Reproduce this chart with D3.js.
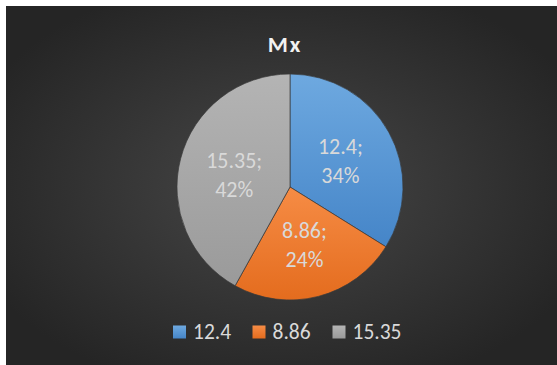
<!DOCTYPE html>
<html><head><meta charset="utf-8">
<script src="https://cdn.jsdelivr.net/npm/d3@7"></script>
<style>html,body{margin:0;padding:0;background:#fff;}svg{display:block;}</style>
</head><body>
<script>
const categories = ["12.4", "8.86", "15.35"];
const values = [12.4, 8.86, 15.35];
const percentLabels = ["34%", "24%", "42%"];
const lightColors = ["#6EA9E0", "#F68C45", "#B4B4B4"];
const darkColors = ["#4585C8", "#E46C1E", "#9A9A9A"];
const title = "Mx";

const W = 557, H = 365;
const svg = d3.select("body").append("svg").attr("width", W).attr("height", H);
const defs = svg.append("defs");
const bg = defs.append("radialGradient").attr("id", "bg").attr("cx", "50%").attr("cy", "50%").attr("r", "60%");
bg.append("stop").attr("offset", "0%").attr("stop-color", "#474747");
bg.append("stop").attr("offset", "100%").attr("stop-color", "#252525");
svg.append("rect").attr("x", 6).attr("y", 6).attr("width", W - 6).attr("height", H - 6).attr("fill", "url(#bg)");

categories.forEach((c, i) => {
  const g = defs.append("linearGradient").attr("id", "g" + i).attr("x1", 0).attr("y1", 0).attr("x2", 0).attr("y2", 1);
  g.append("stop").attr("offset", "0%").attr("stop-color", lightColors[i]);
  g.append("stop").attr("offset", "100%").attr("stop-color", darkColors[i]);
});

const font = "Carlito, 'Open Sans', 'Liberation Sans', sans-serif";
svg.append("text").attr("x", 285).attr("y", 51.5).attr("text-anchor", "middle")
  .attr("font-family", font).attr("font-weight", "bold").attr("font-size", 23)
  .attr("fill", "#f2f2f2").attr("letter-spacing", 2).text(title);

const cx = 290, cy = 187, R = 113;
const pie = d3.pie().sort(null).value(d => d);
const arc = d3.arc().innerRadius(0).outerRadius(R);
const arcs = pie(values);
const g = svg.append("g").attr("transform", `translate(${cx},${cy})`);
g.selectAll("path").data(arcs).join("path")
  .attr("d", arc).attr("fill", (d, i) => `url(#g${i})`)
  .attr("stroke", "#3a3a3a").attr("stroke-width", 0.7);

const labelArc = d3.arc().innerRadius(R * 0.51).outerRadius(R * 0.51);
g.selectAll("text.lbl").data(arcs).join("text").attr("class", "lbl")
  .attr("transform", d => `translate(${labelArc.centroid(d)})`)
  .attr("text-anchor", "middle").attr("font-family", font).attr("font-size", 22)
  .attr("fill", "#d9d9d9")
  .each(function(d, i) {
    const t = d3.select(this);
    t.append("tspan").attr("x", 0).attr("y", -5).text(categories[i] + ";");
    t.append("tspan").attr("x", 0).attr("y", 24).text(percentLabels[i]);
  });

const legendX = [173, 252.5, 332.5];
const lg = svg.append("g");
categories.forEach((c, i) => {
  lg.append("rect").attr("x", legendX[i]).attr("y", 325.5).attr("width", 13).attr("height", 13)
    .attr("fill", `url(#g${i})`);
  lg.append("text").attr("x", legendX[i] + 20).attr("y", 339).attr("font-family", font)
    .attr("font-size", 21.5).attr("fill", "#d9d9d9").text(c);
});
</script>
</body></html>
